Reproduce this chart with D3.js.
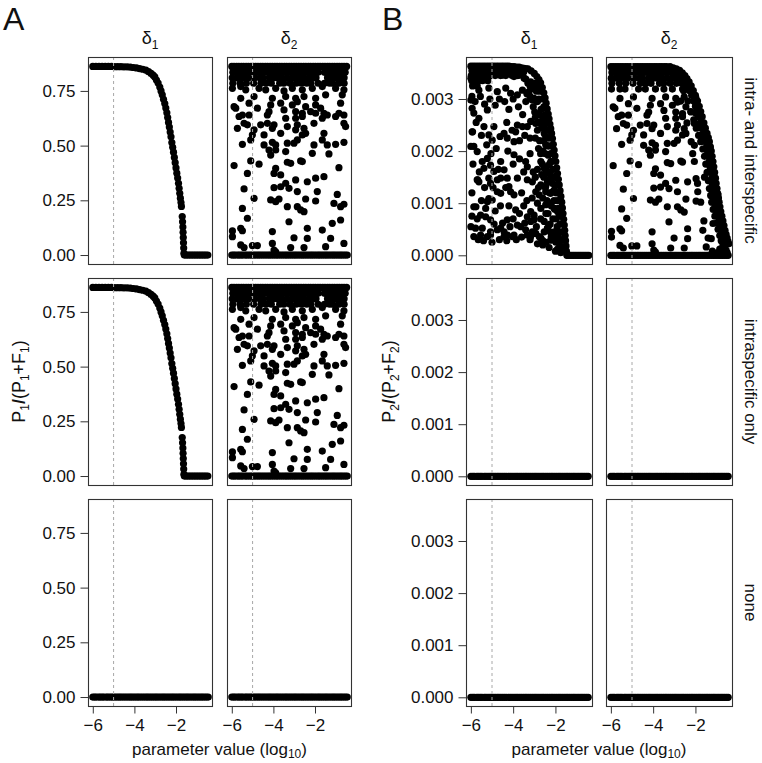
<!DOCTYPE html>
<html>
<head>
<meta charset="utf-8">
<script src="https://cdnjs.cloudflare.com/ajax/libs/d3/7.8.5/d3.min.js"></script>
<style>
html,body{margin:0;padding:0;background:#fff;}
text{font-family:'Liberation Sans',Arial,Helvetica,sans-serif;fill:#111;}
</style>
</head>
<body>
<svg id="chart" width="762" height="763"></svg>
<script>
// ---------------- data ----------------
const xTicks = [-6, -4, -2];
const yTicksA = [0, 0.25, 0.5, 0.75];
const yTickLabelsA = ["0.00", "0.25", "0.50", "0.75"];
const yTicksB = [0, 1, 2, 3];                       // units of 0.001
const yTickLabelsB = ["0.000", "0.001", "0.002", "0.003"];
const refLineX = -5;
const colSubs = ["1", "2"];
const rowLabels = ["intra- and interspecific", "intraspecific only", "none"];

// sampled parameter values that give zero
const zeroX = [-6.00,-5.91,-5.83,-5.72,-5.64,-5.55,-5.47,-5.36,-5.28,-5.19,-5.10,-5.02,-4.93,-4.84,-4.75,-4.67,-4.58,-4.49,-4.40,-4.31,-4.22,-4.14,-4.05,-3.96,-3.87,-3.79,-3.70,-3.61,-3.52,-3.43,-3.35,-3.26,-3.17,-3.08,-2.99,-2.91,-2.82,-2.73,-2.64,-2.56,-2.47,-2.38,-2.29,-2.20,-2.12,-2.03,-1.94,-1.85,-1.77,-1.68,-1.59,-1.50,-1.42,-1.33,-1.24,-1.15,-1.07,-0.98,-0.89,-0.80,-0.72,-0.63,-0.54,-0.45];

// A, delta1 : P1/(P1+F1)
const aDelta1 = [[-6.00,.862],[-5.85,.862],[-5.70,.862],[-5.55,.862],[-5.40,.862],[-5.25,.862],[-5.10,.862],[-4.95,.861],[-4.80,.861],[-4.65,.861],[-4.50,.860],[-4.35,.860],[-4.20,.859],[-4.05,.857],[-3.90,.855],[-3.75,.852],[-3.60,.849],[-3.45,.845],[-3.32,.838],[-3.20,.830],[-3.10,.822],[-3.02,.814],[-2.94,.800],[-2.86,.786],[-2.78,.768],[-2.72,.750],[-2.66,.732],[-2.60,.712],[-2.54,.692],[-2.49,.672],[-2.44,.650],[-2.40,.628],[-2.36,.606],[-2.32,.585],[-2.28,.562],[-2.24,.540],[-2.20,.514],[-2.16,.492],[-2.12,.470],[-2.08,.446],[-2.04,.422],[-2.00,.398],[-1.96,.374],[-1.92,.352],[-1.88,.328],[-1.85,.305],[-1.82,.282],[-1.79,.260],[-1.76,.240],[-1.74,.222],[-1.70,.176],[-1.685,.152],[-1.67,.128],[-1.66,.104],[-1.65,.080],[-1.64,.056],[-1.63,.032],[-1.62,.008],[-1.60,0],[-1.52,0],[-1.44,0],[-1.36,0],[-1.28,0],[-1.20,0],[-1.12,0],[-1.04,0],[-0.96,0],[-0.88,0],[-0.80,0],[-0.72,0],[-0.64,0],[-0.56,0],[-0.47,0]];

// A, delta2 : P1/(P1+F1) (besides zeros)
const aDelta2 = [
[-6.00,.862],[-5.89,.862],[-5.77,.862],[-5.66,.862],[-5.54,.862],[-5.43,.862],[-5.31,.862],[-5.20,.862],[-5.08,.862],[-4.97,.862],[-4.85,.862],[-4.74,.862],[-4.62,.862],[-4.51,.862],[-4.39,.862],[-4.28,.862],[-4.16,.862],[-4.05,.862],[-3.93,.862],[-3.82,.862],[-3.70,.862],[-3.59,.862],[-3.47,.862],[-3.36,.862],[-3.24,.862],[-3.13,.862],[-3.01,.862],[-2.90,.862],[-2.78,.862],[-2.67,.862],[-2.55,.862],[-2.44,.862],[-2.32,.862],[-2.21,.862],[-2.09,.862],[-1.98,.862],[-1.86,.862],[-1.75,.862],[-1.63,.862],[-1.52,.862],[-1.40,.862],[-1.29,.862],[-1.17,.862],[-1.06,.862],[-0.94,.862],[-0.83,.862],[-0.71,.862],[-0.60,.862],[-0.48,.862],
[-5.95,.835],[-5.80,.835],[-5.65,.835],[-5.50,.835],[-5.30,.835],[-5.15,.835],[-4.95,.835],[-4.80,.835],[-4.60,.835],[-4.45,.835],[-4.30,.835],[-4.10,.835],[-3.90,.835],[-3.75,.835],[-3.55,.835],[-3.40,.835],[-3.20,.835],[-3.05,.835],[-2.85,.835],[-2.70,.835],[-2.50,.835],[-2.35,.835],[-2.15,.835],[-2.00,.835],[-1.85,.835],[-1.55,.835],[-1.35,.835],[-1.20,.835],[-1.05,.835],[-0.90,.835],[-0.75,.835],[-0.55,.835],
[-5.98,.81],[-5.75,.81],[-5.55,.81],[-5.40,.81],[-5.20,.81],[-4.90,.81],[-4.65,.81],[-4.50,.81],[-4.20,.81],[-4.00,.81],[-3.80,.81],[-3.60,.81],[-3.35,.81],[-3.10,.81],[-2.95,.81],[-2.75,.81],[-2.55,.81],[-2.30,.81],[-2.10,.81],[-1.95,.81],[-1.40,.81],[-1.20,.81],[-1.00,.81],[-0.80,.81],[-0.60,.81],
[-5.95,.785],[-5.60,.785],[-5.30,.785],[-4.95,.785],[-4.60,.785],[-4.35,.785],[-4.10,.785],[-3.70,.785],[-3.50,.785],[-3.20,.785],[-2.90,.785],[-2.65,.785],[-2.40,.785],[-2.20,.785],[-1.85,.785],[-1.55,.785],[-1.30,.785],[-1.15,.785],[-0.85,.785],[-0.60,.785],
[-5.97,.762],[-5.57,.77],[-5.33,.755],[-4.69,.762],[-4.37,.755],[-3.89,.762],[-3.49,.75],[-3.09,.762],[-2.61,.755],[-2.13,.762],[-1.65,.77],[-1.01,.762],[-0.61,.755],
[-5.57,.716],[-4.93,.724],[-4.05,.716],[-3.41,.724],[-2.93,.716],[-2.53,.724],[-1.97,.716],[-1.49,.732],[-0.69,.732],
[-5.89,.678],[-5.17,.694],[-4.13,.686],[-3.65,.694],[-3.09,.686],[-2.85,.701],[-2.45,.678],[-1.97,.686],[-1.73,.671],[-0.77,.694],
[-5.81,.671],[-4.77,.671],[-4.21,.655],[-3.49,.663],[-2.93,.655],[-2.61,.648],[-2.21,.655],[-1.97,.648],[-1.57,.648],[-1.41,.640],[-0.85,.648],[-0.61,.640],
[-5.65,.633],[-5.49,.640],[-5.17,.640],[-4.29,.640],[-3.41,.625],[-2.93,.625],[-2.61,.633],[-1.65,.625],[-1.01,.633],
[-5.41,.602],[-5.25,.595],[-4.61,.595],[-4.29,.602],[-3.97,.595],[-3.33,.587],[-2.85,.595],[-2.05,.602],[-0.61,.602],[-0.53,.587],
[-5.73,.579],[-4.93,.572],[-4.05,.579],[-2.53,.579],[-2.93,.572],
[-5.01,.549],[-4.45,.549],[-3.65,.556],[-2.61,.549],[-2.45,.556],[-1.57,.556],
[-5.49,.506],[-5.09,.526],[-4.45,.503],[-4.05,.515],[-3.89,.503],[-3.33,.511],[-3.01,.511],[-2.85,.526],[-2.05,.503],[-1.65,.526],[-1.41,.503],[-1.01,.506],[-0.61,.515],
[-4.21,.480],[-3.89,.480],[-3.41,.473],[-4.13,.457],[-2.13,.465],[-1.33,.462],
[-5.89,.409],[-5.09,.430],[-4.69,.415],[-3.89,.396],[-3.33,.424],[-3.17,.419],[-2.69,.430],[-2.61,.427],[-0.85,.399],
[-5.25,.373],[-3.97,.373],[-3.65,.366],[-2.93,.343],[-2.37,.335],[-1.97,.351],[-1.57,.358],
[-5.41,.302],[-3.97,.308],[-3.65,.312],[-3.41,.328],[-3.25,.305],[-2.85,.290],[-1.89,.290],[-0.93,.277],
[-4.93,.259],[-4.13,.252],[-3.89,.244],[-3.73,.256],[-2.45,.256],[-1.97,.247],[-1.09,.236],[-0.61,.232],
[-5.49,.213],[-3.33,.221],[-2.85,.221],[-2.69,.206],[-0.77,.221],
[-5.25,.168],[-3.25,.152],[-2.53,.198],[-1.17,.145],[-0.77,.160],
[-5.97,.110],[-5.57,.122],[-5.49,.111],[-4.05,.107],[-2.37,.122],[-1.65,.114],
[-5.97,.084],[-3.01,.079],[-2.37,.076],[-1.25,.076],
[-5.57,.046],[-5.01,.043],[-4.77,.043],[-4.05,.053],[-3.17,.034],[-2.53,.034],[-1.49,.038],[-0.61,.053],[-5.41,.034],[-3.97,.023],[-3.89,.015]
];

// B, delta1 : P2/(P2+F2) in units of 0.001
const bDelta1 = [
[-6.00,3.63],[-5.88,3.63],[-5.76,3.63],[-5.64,3.63],[-5.52,3.63],[-5.40,3.63],[-5.28,3.63],[-5.16,3.63],[-5.04,3.63],[-4.92,3.63],[-4.80,3.63],[-4.68,3.63],[-4.56,3.63],[-4.44,3.63],[-4.32,3.63],[-4.20,3.63],[-4.08,3.62],[-3.96,3.62],[-3.84,3.61],[-3.72,3.61],[-3.60,3.60],[-3.48,3.59],[-3.38,3.58],
[-5.95,3.54],[-5.80,3.54],[-5.62,3.54],[-5.45,3.54],[-5.28,3.54],[-5.10,3.54],[-4.92,3.54],[-4.75,3.54],[-4.55,3.54],[-4.38,3.54],[-4.20,3.54],[-4.02,3.54],[-3.85,3.54],[-3.68,3.54],[-3.50,3.52],
[-5.98,3.45],[-5.84,3.45],[-5.70,3.45],[-5.52,3.45],[-5.30,3.45],[-5.10,3.45],[-4.85,3.45],[-4.60,3.45],[-4.35,3.45],[-4.05,3.45],[-3.78,3.45],
[-5.96,3.35],[-5.80,3.35],[-5.64,3.35],[-5.45,3.35],[-5.20,3.35],[-5.92,3.25],[-5.70,3.25],
[-3.30,3.58],[-3.15,3.54],[-3.00,3.49],[-2.88,3.43],[-2.78,3.37],[-2.70,3.31],[-2.62,3.22],[-2.55,3.12],[-2.49,3.02],[-2.44,2.92],[-2.39,2.81],[-2.34,2.71],[-2.30,2.62],[-2.26,2.52],[-2.22,2.43],[-2.18,2.34],[-2.14,2.24],[-2.10,2.13],[-2.06,2.02],[-2.02,1.91],[-1.98,1.80],[-1.94,1.68],[-1.90,1.57],[-1.86,1.46],[-1.82,1.35],[-1.78,1.24],[-1.74,1.13],[-1.70,1.02],[-1.67,0.91],[-1.64,0.80],[-1.61,0.69],[-1.58,0.58],[-1.56,0.48],[-1.54,0.38],[-1.52,0.28],[-1.50,0.18],[-1.48,0.08],
[-1.46,0],[-1.38,0],[-1.30,0],[-1.22,0],[-1.14,0],[-1.06,0],[-0.98,0],[-0.90,0],[-0.82,0],[-0.74,0],[-0.66,0],[-0.58,0],[-0.50,0],[-0.42,0],
[-2.85,3.30],[-2.72,3.15],[-2.62,3.00],[-2.55,2.85],[-2.48,2.70],[-2.42,2.55],[-2.37,2.40],[-2.32,2.25],[-2.27,2.10],[-2.22,1.95],[-2.17,1.80],[-2.12,1.65],[-2.07,1.50],[-2.02,1.35],[-1.97,1.20],[-1.92,1.05],[-1.87,0.90],[-1.82,0.75],[-1.78,0.60],[-1.74,0.45],[-1.70,0.30],[-1.66,0.15],
[-3.10,3.20],[-2.90,2.95],[-2.75,2.70],[-2.65,2.45],[-2.55,2.20],[-2.48,1.95],[-2.42,1.70],[-2.35,1.45],[-2.28,1.20],[-2.20,0.95],[-2.12,0.70],[-2.05,0.45],[-1.98,0.25],[-1.90,0.12],
[-3.40,3.38],[-3.30,3.30],[-3.20,3.05],[-3.05,2.85],[-2.95,2.65],[-2.85,2.40],[-2.75,2.20],[-2.70,1.95],[-2.62,1.75],[-2.55,1.50],[-2.48,1.30],[-2.40,1.05],[-2.35,0.80],[-2.25,0.60],[-2.20,0.35],
[-3.00,3.30],[-2.90,3.15],[-2.78,3.00],[-2.68,2.80],[-2.60,2.62],[-2.52,2.45],[-2.45,2.28],[-2.40,2.10],[-2.34,1.92],[-2.28,1.75],[-2.24,1.58],[-2.18,1.40],[-2.12,1.22],[-2.07,1.05],[-2.02,0.88],[-1.96,0.70],[-1.92,0.55],[-1.86,0.40],[-1.82,0.28],[-1.78,0.12],
[-3.20,3.25],[-3.10,2.98],[-2.98,2.75],[-3.35,3.10],[-2.80,2.55],
[-2.30,0.15],[-2.00,0.08],[-1.80,0.20],[-2.60,0.20],[-1.75,0.05],
[-5.94,2.82],[-5.86,2.73],[-5.22,2.79],[-5.62,2.63],[-5.38,2.47],[-4.91,2.47],[-5.94,2.37],[-5.15,2.31],[-5.86,2.09],[-5.70,1.99],[-4.99,2.21],[-4.43,2.34],[-4.28,2.25],[-3.96,2.18],[-3.80,2.50],[-3.88,2.37],[-3.56,2.47],[-3.33,2.47],[-3.17,2.57],[-2.93,2.53],[-2.69,2.53],[-2.53,2.34],[-2.46,2.12],
[-5.46,1.80],[-5.38,1.67],[-5.07,1.73],[-5.22,1.86],[-4.91,1.61],[-4.59,1.80],[-4.43,1.64],[-3.96,1.93],[-3.41,1.80],[-3.33,1.70],[-2.69,1.80],[-2.53,1.67],[-2.46,1.57],[-2.22,1.80],
[-5.70,1.45],[-5.62,1.41],[-5.15,1.48],[-5.07,1.38],[-4.75,1.45],[-4.59,1.48],[-4.28,1.48],[-3.80,1.48],[-3.33,1.45],[-3.09,1.41],[-2.69,1.35],[-2.46,1.32],[-2.38,1.41],[-2.22,1.48],[-2.14,1.38],
[-4.75,1.22],[-4.59,1.19],[-4.20,1.32],[-4.12,1.22],[-3.96,1.16],[-2.93,1.22],[-2.77,1.16],[-2.46,1.22],[-2.22,1.19],[-2.06,1.25],
[-5.86,0.93],[-5.22,1.03],[-5.15,1.09],[-4.99,1.06],[-3.88,0.87],[-3.17,0.84],[-3.01,0.77],[-2.69,0.90],[-2.46,0.97],[-2.22,1.00],[-2.06,0.90],[-1.90,0.84],
[-5.54,0.77],[-5.30,0.74],[-5.07,0.68],[-4.28,0.68],[-3.33,0.74],[-3.17,0.65],[-3.01,0.68],[-2.53,0.65],[-2.30,0.58],
[-6.00,0.55],[-5.78,0.52],[-5.46,0.52],[-5.07,0.45],[-4.75,0.49],[-4.59,0.52],[-4.43,0.45],[-4.28,0.39],[-4.04,0.36],[-3.80,0.58],[-3.64,0.55],[-3.41,0.49],[-3.33,0.39],[-3.09,0.45],[-2.93,0.42],[-2.77,0.36],[-2.53,0.45],[-2.38,0.52],[-2.14,0.39],[-1.98,0.45],[-1.90,0.33],
[-5.86,0.36],[-5.54,0.39],[-5.22,0.36],[-5.07,0.39],[-4.43,0.36],[-3.96,0.39],[-3.17,0.36],[-2.69,0.33],[-2.22,0.29],
[-6.00,3.40],[-5.78,3.33],[-5.46,3.37],[-5.15,3.43],[-4.91,3.49],[-4.51,3.46],[-4.28,3.53],[-3.96,3.43],[-3.72,3.46],[-3.48,3.40],[-3.17,3.33],
[-5.62,3.17],[-5.15,3.21],[-4.75,3.14],[-4.35,3.21],[-4.12,3.11],[-3.80,3.08],[-3.56,3.17],[-3.25,3.14],[-3.01,3.01],[-2.85,2.95],[-2.85,3.21],
[-6.00,2.98],[-5.92,2.37],[-6.00,2.09],[-5.68,1.45],[-5.76,0.93],
[-5.95,3.05],[-5.80,2.95],[-5.55,3.05],[-5.35,2.90],[-5.10,3.00],[-4.85,2.88],[-4.65,3.00],[-5.75,2.55],[-5.50,2.30],[-5.25,2.12],[-5.05,1.95],[-4.80,2.05],[-4.62,2.28],[-5.90,1.75],[-5.60,1.60],[-5.35,1.30],[-4.95,1.30],[-4.70,1.65],[-5.95,1.20],[-5.50,1.05],[-5.30,0.90],[-4.85,0.85],[-4.60,0.95],[-5.70,0.70],[-5.95,0.75],[-4.90,0.60],[-4.65,0.30],[-5.40,0.28],[-5.65,0.30],[-5.00,0.25],[-4.30,0.28],[-4.50,0.62],
[-4.40,2.95],[-4.20,2.80],[-4.00,3.00],[-3.75,2.85],[-3.55,2.70],[-3.40,2.95],[-4.30,2.55],[-4.05,2.40],[-3.70,2.20],[-3.45,2.30],[-3.20,2.25],[-4.25,2.00],[-4.00,1.75],[-3.70,1.85],[-3.50,1.60],[-3.20,1.95],[-3.05,1.60],[-4.35,1.30],[-3.60,1.20],[-3.35,1.05],[-3.10,1.10],[-4.20,0.95],[-4.00,0.70],[-3.70,0.80],[-3.50,0.95],[-3.60,0.35],[-3.85,0.30],[-3.20,0.30],[-3.45,0.62],[-4.15,0.55],
[-2.95,2.25],[-2.80,2.05],[-2.60,2.00],[-2.85,1.65],[-2.65,1.55],[-2.95,1.50],[-2.80,1.30],[-2.60,1.10],[-2.85,1.00],[-2.70,0.70],[-2.45,0.80],[-2.90,0.55],[-2.60,0.28],[-2.45,0.25],[-2.85,0.22],[-2.25,0.45],[-2.35,1.60]
];

// B, delta2 : P2/(P2+F2) in units of 0.001 (besides zeros)
const bDelta2 = [
[-6.00,3.62],[-5.89,3.62],[-5.77,3.62],[-5.66,3.62],[-5.54,3.62],[-5.43,3.62],[-5.31,3.62],[-5.20,3.62],[-5.08,3.62],[-4.97,3.62],[-4.85,3.62],[-4.74,3.62],[-4.62,3.62],[-4.51,3.62],[-4.39,3.62],[-4.28,3.62],[-4.16,3.62],[-4.05,3.62],[-3.93,3.62],[-3.82,3.62],[-3.70,3.62],[-3.59,3.62],[-3.47,3.62],[-3.36,3.62],
[-5.95,3.51],[-5.80,3.51],[-5.65,3.51],[-5.50,3.51],[-5.30,3.51],[-5.15,3.51],[-4.95,3.51],[-4.80,3.51],[-4.60,3.51],[-4.45,3.51],[-4.30,3.51],[-4.10,3.51],[-3.90,3.51],[-3.75,3.51],[-3.55,3.51],[-3.40,3.51],[-3.20,3.51],[-3.05,3.51],[-2.85,3.51],
[-5.98,3.40],[-5.75,3.40],[-5.55,3.40],[-5.40,3.40],[-5.20,3.40],[-4.90,3.40],[-4.65,3.40],[-4.50,3.40],[-4.20,3.40],[-4.00,3.40],[-3.80,3.40],[-3.60,3.40],[-3.35,3.40],[-3.10,3.40],[-2.95,3.40],[-2.75,3.40],
[-5.95,3.30],[-5.60,3.30],[-5.30,3.30],[-4.95,3.30],[-4.60,3.30],[-4.35,3.30],[-4.10,3.30],[-3.70,3.30],[-3.50,3.30],[-3.20,3.30],[-2.90,3.30],[-2.65,3.30],
[-5.97,3.19],[-5.57,3.19],[-5.33,3.19],[-4.69,3.19],[-4.37,3.19],[-3.89,3.19],[-3.49,3.19],[-3.09,3.19],[-2.61,3.19],
[-3.20,3.62],[-3.05,3.60],[-2.90,3.58],[-2.75,3.55],[-2.62,3.50],[-2.50,3.45],[-2.40,3.39],[-2.30,3.33],[-2.20,3.25],[-2.10,3.16],[-2.00,3.07],[-1.90,2.96],[-1.82,2.86],[-1.75,2.76],[-1.68,2.66],[-1.60,2.54],[-1.53,2.44],[-1.45,2.34],[-1.39,2.26],[-1.34,2.18],[-1.29,2.08],[-1.25,2.00],[-1.21,1.90],[-1.17,1.80],[-1.13,1.70],[-1.09,1.59],[-1.05,1.48],[-1.02,1.38],[-0.98,1.28],[-0.95,1.19],[-0.91,1.10],[-0.88,1.02],[-0.84,0.93],[-0.80,0.84],[-0.75,0.75],[-0.70,0.66],[-0.65,0.57],[-0.60,0.48],[-0.55,0.40],[-0.50,0.33],[-0.46,0.27],[-0.42,0.22],
[-2.68,3.45],[-2.58,3.39],[-2.48,3.33],[-2.38,3.25],[-2.28,3.16],[-2.18,3.07],[-2.08,2.96],[-2.00,2.86],[-1.93,2.76],[-1.86,2.66],[-1.78,2.54],[-1.71,2.44],[-1.63,2.34],[-1.57,2.26],[-1.52,2.18],[-1.47,2.08],[-1.43,2.00],[-1.39,1.90],[-1.35,1.80],[-1.31,1.70],[-1.27,1.59],[-1.23,1.48],[-1.20,1.38],[-1.16,1.28],[-1.13,1.19],[-1.09,1.10],[-1.06,1.02],[-1.02,0.93],[-0.98,0.84],[-0.93,0.75],[-0.88,0.66],[-0.83,0.57],[-0.78,0.48],[-0.73,0.40],[-0.68,0.33],[-0.64,0.27],[-0.60,0.22],
[-2.76,3.33],[-2.56,3.16],[-2.36,2.96],[-2.22,2.76],[-2.08,2.60],[-1.96,2.44],[-1.85,2.30],[-1.75,2.18],[-1.65,2.04],[-1.57,1.90],[-1.51,1.75],[-1.45,1.59],[-1.39,1.43],[-1.34,1.28],[-1.28,1.15],[-1.23,1.02],[-1.16,0.88],[-1.08,0.75],[-1.00,0.62],[-0.93,0.50],[-0.85,0.38],[-0.78,0.28],[-0.70,0.18],
[-2.70,2.96],[-2.40,2.54],[-2.20,2.18],[-2.05,1.80],[-1.90,1.38],[-1.75,1.02],[-1.60,0.66],[-1.40,0.33],
[-0.95,0.05],[-0.85,0.12],[-0.75,0.08],[-0.65,0.15],[-0.55,0.10],[-0.50,0.05],[-0.70,0.25],[-1.20,0.08],[-0.60,0.20],
[-5.57,3.01],[-4.93,3.04],[-4.05,3.01],[-3.41,3.04],[-2.93,3.01],[-2.53,3.04],[-1.97,3.01],
[-5.89,2.85],[-5.17,2.91],[-4.13,2.88],[-3.65,2.91],[-3.09,2.88],[-2.85,2.94],[-2.45,2.85],[-1.97,2.88],
[-5.81,2.82],[-4.77,2.82],[-4.21,2.75],[-3.49,2.78],[-2.93,2.75],[-2.61,2.72],[-2.21,2.75],[-1.97,2.72],
[-5.65,2.66],[-5.49,2.69],[-5.17,2.69],[-4.29,2.69],[-3.41,2.63],[-2.93,2.63],[-2.61,2.66],
[-5.41,2.53],[-5.25,2.50],[-4.61,2.50],[-4.29,2.53],[-3.97,2.50],[-3.33,2.47],[-2.85,2.50],[-2.05,2.53],
[-5.73,2.43],[-4.93,2.40],[-4.05,2.43],[-2.53,2.43],[-2.93,2.40],
[-5.01,2.31],[-4.45,2.31],[-3.65,2.34],[-2.61,2.31],[-2.45,2.34],[-1.57,2.34],
[-5.49,2.13],[-5.09,2.21],[-4.45,2.11],[-4.05,2.16],[-3.89,2.11],[-3.33,2.15],[-3.01,2.15],[-2.85,2.21],[-2.05,2.11],[-1.65,2.21],[-1.41,2.11],
[-4.21,2.02],[-3.89,2.02],[-3.41,1.99],[-4.13,1.92],[-2.13,1.95],[-1.33,1.94],
[-5.89,1.72],[-5.09,1.81],[-4.69,1.74],[-3.89,1.66],[-3.33,1.78],[-3.17,1.76],[-2.69,1.81],[-2.61,1.79],
[-5.25,1.57],[-3.97,1.57],[-3.65,1.54],[-2.93,1.44],[-2.37,1.41],[-1.97,1.47],[-1.57,1.50],
[-5.41,1.27],[-3.97,1.29],[-3.65,1.31],[-3.41,1.38],[-3.25,1.28],[-2.85,1.22],[-1.89,1.22],[-0.93,1.16],
[-4.93,1.09],[-4.13,1.06],[-3.89,1.02],[-3.73,1.08],[-2.45,1.08],[-1.97,1.04],[-1.09,0.99],
[-5.49,0.89],[-3.33,0.93],[-2.85,0.93],[-2.69,0.87],
[-5.25,0.71],[-3.25,0.64],[-2.53,0.83],[-1.17,0.61],[-0.77,0.67],
[-5.97,0.46],[-5.57,0.51],[-5.49,0.47],[-4.05,0.45],[-2.37,0.51],[-1.65,0.48],
[-5.97,0.35],[-3.01,0.33],[-2.37,0.32],[-1.25,0.32],
[-5.57,0.19],[-5.01,0.18],[-4.77,0.18],[-4.05,0.22],[-3.17,0.14],[-2.53,0.14],[-1.49,0.16],[-0.61,0.22],[-5.41,0.14],[-3.97,0.10],[-3.89,0.06]
];

// ---------------- layout ----------------
const svg = d3.select("#chart");
const rowsY = [57, 278, 499];
const panelH = 207;
const groups = [
  { letter: "A", letterX: 3, cols: [88, 227], w: 124, yDomain: [-0.041, 0.905], ticks: yTicksA, tickLabels: yTickLabelsA, titleX: 19, sub: "1",
    series: [[aDelta1, aDelta1, []], [aDelta2, aDelta2, []]],
    zeros: [[false, false, true], [true, true, true]] },
  { letter: "B", letterX: 382, cols: [466, 606], w: 126, yDomain: [-0.167, 3.806], ticks: yTicksB, tickLabels: yTickLabelsB, titleX: 389, sub: "2",
    series: [[bDelta1, [], []], [bDelta2, [], []]],
    zeros: [[false, true, true], [true, true, true]] }
];
const xDomain = [-6.23, -0.27];
const R = 3.6;
const zeroPts = zeroX.map(x => [x, 0]);

groups.forEach(g => {
  svg.append("text").attr("x", g.letterX).attr("y", 30).attr("font-size", 32).text(g.letter);

  g.cols.forEach((x0, ci) => {
    const x = d3.scaleLinear().domain(xDomain).range([x0, x0 + g.w]);
    const hdr = svg.append("text").attr("x", x0 + g.w / 2).attr("y", 44)
      .attr("text-anchor", "middle").attr("font-size", 18);
    hdr.append("tspan").text("δ");
    hdr.append("tspan").attr("font-size", 12).attr("dy", 5).text(colSubs[ci]);

    rowsY.forEach((y0, ri) => {
      const y = d3.scaleLinear().domain(g.yDomain).range([y0 + panelH, y0]);
      const p = svg.append("g");
      let pts = g.series[ci][ri].slice();
      if (g.zeros[ci][ri]) pts = pts.concat(zeroPts);
      p.selectAll("circle").data(pts).join("circle")
        .attr("cx", d => x(d[0])).attr("cy", d => y(d[1])).attr("r", R).attr("fill", "#000");
      p.append("line").attr("x1", x(refLineX)).attr("x2", x(refLineX))
        .attr("y1", y0).attr("y2", y0 + panelH)
        .attr("stroke", "#a8a8a8").attr("stroke-width", 1).attr("stroke-dasharray", "3,3");
      p.append("rect").attr("x", x0 + 0.5).attr("y", y0 + 0.5).attr("width", g.w).attr("height", panelH)
        .attr("fill", "none").attr("stroke", "#333").attr("stroke-width", 1.1);

      if (ci === 0) {
        const ax = d3.axisLeft(y).tickValues(g.ticks).tickSize(8).tickPadding(5)
          .tickFormat((d, i) => g.tickLabels[i]);
        const ag = svg.append("g").attr("transform", `translate(${x0 + 0.5},0)`).call(ax);
        ag.select(".domain").remove();
        ag.selectAll("line").attr("stroke", "#333");
        ag.selectAll("text").attr("font-size", 17).attr("fill", "#111")
          .style("font-family", "'Liberation Sans',Arial,sans-serif");
      }
      if (ri === 2) {
        const ax = d3.axisBottom(x).tickValues(xTicks).tickSize(7).tickPadding(5).tickFormat(d3.format("d"));
        const ag = svg.append("g").attr("transform", `translate(0,${y0 + panelH + 0.5})`).call(ax);
        ag.select(".domain").attr("d", `M${x(-6)},0H${x(-2)}`).attr("stroke", "#333");
        ag.selectAll("line").attr("stroke", "#333");
        ag.selectAll("text").attr("font-size", 17).attr("fill", "#111")
          .style("font-family", "'Liberation Sans',Arial,sans-serif");
      }
    });
  });

  const cy = rowsY[1] + panelH / 2;
  const t = svg.append("text").attr("transform", `translate(${g.titleX},${cy}) rotate(-90)`)
    .attr("text-anchor", "middle").attr("font-size", 18).attr("dy", "0.35em");
  t.append("tspan").text("P");
  t.append("tspan").attr("font-size", 12).attr("dy", 4).text(g.sub);
  t.append("tspan").attr("dy", -4).attr("font-weight", "bold").text("/");
  t.append("tspan").text("(P");
  t.append("tspan").attr("font-size", 12).attr("dy", 4).text(g.sub);
  t.append("tspan").attr("dy", -4).text("+F");
  t.append("tspan").attr("font-size", 12).attr("dy", 4).text(g.sub);
  t.append("tspan").attr("dy", -4).text(")");

  const xc = (g.cols[0] + g.cols[1] + g.w) / 2;
  const xt = svg.append("text").attr("x", xc).attr("y", 755).attr("text-anchor", "middle").attr("font-size", 17);
  xt.append("tspan").text("parameter value (log");
  xt.append("tspan").attr("font-size", 12).attr("dy", 3).text("10");
  xt.append("tspan").attr("dy", -3).text(")");
});

rowsY.forEach((y0, ri) => {
  svg.append("text").attr("transform", `translate(751,${y0 + panelH / 2}) rotate(90)`)
    .attr("text-anchor", "middle").attr("dy", "0.35em").attr("font-size", 17).text(rowLabels[ri]);
});
</script>
</body>
</html>
